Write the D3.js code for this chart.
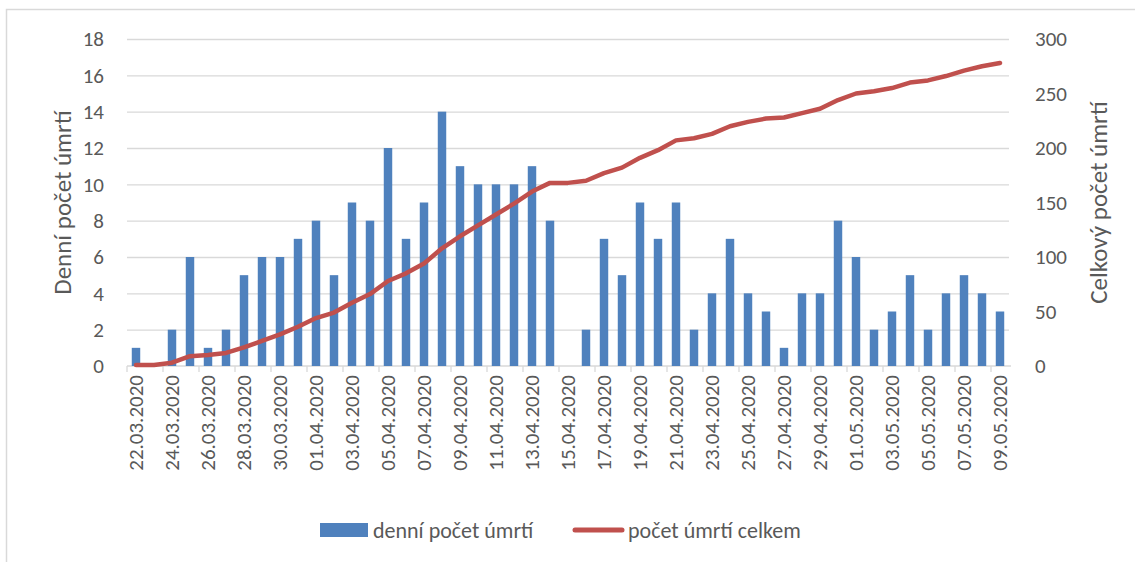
<!DOCTYPE html>
<html>
<head>
<meta charset="utf-8">
<script src="https://cdn.jsdelivr.net/npm/d3@7"></script>
<style>
  body { margin: 0; background: #fff; }
  text { font-family: Carlito, Calibri, Lato, sans-serif; fill: #595959; }
</style>
</head>
<body>
<svg id="chart"></svg>
<script>
const dates = [
  '22.03.2020', '23.03.2020', '24.03.2020', '25.03.2020', '26.03.2020', '27.03.2020', '28.03.2020',
  '29.03.2020', '30.03.2020', '31.03.2020', '01.04.2020', '02.04.2020', '03.04.2020', '04.04.2020',
  '05.04.2020', '06.04.2020', '07.04.2020', '08.04.2020', '09.04.2020', '10.04.2020', '11.04.2020',
  '12.04.2020', '13.04.2020', '14.04.2020', '15.04.2020', '16.04.2020', '17.04.2020', '18.04.2020',
  '19.04.2020', '20.04.2020', '21.04.2020', '22.04.2020', '23.04.2020', '24.04.2020', '25.04.2020',
  '26.04.2020', '27.04.2020', '28.04.2020', '29.04.2020', '30.04.2020', '01.05.2020', '02.05.2020',
  '03.05.2020', '04.05.2020', '05.05.2020', '06.05.2020', '07.05.2020', '08.05.2020', '09.05.2020'
];

const daily = [
  1, 0, 2, 6, 1, 2, 5, 6, 6, 7, 8, 5, 9, 8, 12, 7, 9, 14, 11, 10, 10, 10, 11, 8, 0,
  2, 7, 5, 9, 7, 9, 2, 4, 7, 4, 3, 1, 4, 4, 8, 6, 2, 3, 5, 2, 4, 5, 4, 3
];

const total = [
  1, 1, 3, 9, 10, 12, 17, 23, 29, 36, 44, 49, 58, 66, 78, 85, 94, 108, 119, 129, 139, 149, 160, 168, 168,
  170, 177, 182, 191, 198, 207, 209, 213, 220, 224, 227, 228, 232, 236, 244, 250, 252, 255, 260, 262, 266, 271, 275, 278
];

const leftTicks = [0, 2, 4, 6, 8, 10, 12, 14, 16, 18];
const rightTicks = [0, 50, 100, 150, 200, 250, 300];

const leftTitle = 'Denní počet úmrtí';
const rightTitle = 'Celkový počet úmrtí';
const barName = 'denní počet úmrtí';
const lineName = 'počet úmrtí celkem';

const barColor = '#4F81BD';
const lineColor = '#C0504D';
const gridColor = '#D9D9D9';
const font = 'Carlito, Calibri, Lato, sans-serif';

const W = 1135, H = 562;
const margin = { top: 39, right: 126, bottom: 196, left: 127 };
const width = W - margin.left - margin.right;
const height = H - margin.top - margin.bottom;

const svg = d3.select('#chart')
  .attr('width', W)
  .attr('height', H);

// outer frame of the chart area (runs past the right and bottom edge)
svg.append('rect')
  .attr('x', 6.5)
  .attr('y', 9.5)
  .attr('width', 1200)
  .attr('height', 700)
  .attr('fill', 'none')
  .attr('stroke', gridColor)
  .attr('stroke-width', 1.5);

const chart = svg.append('g')
  .attr('transform', `translate(${margin.left},${margin.top})`);

const xScale = d3.scaleBand()
  .domain(dates)
  .range([0, width])
  .paddingInner(0.53)
  .paddingOuter(0.265);

const yLeft = d3.scaleLinear().domain([0, 18]).range([height, 0]);
const yRight = d3.scaleLinear().domain([0, 300]).range([height, 0]);

// gridlines
const gridG = chart.append('g')
  .call(d3.axisLeft(yLeft).tickValues(leftTicks.filter(d => d > 0)).tickSize(-width).tickFormat(''));
gridG.select('.domain').remove();
gridG.selectAll('line').attr('stroke', gridColor).attr('stroke-width', 1.3);

// x axis line and tick marks between every second category
const step = xScale.step();
chart.append('line')
  .attr('x1', 0).attr('x2', width + 2)
  .attr('y1', height).attr('y2', height)
  .attr('stroke', gridColor)
  .attr('stroke-width', 1.3);

chart.append('g').selectAll('line')
  .data(dates.filter((d, i) => i % 2 === 0))
  .join('line')
  .attr('x1', d => xScale(d) - (step - xScale.bandwidth()) / 2)
  .attr('x2', d => xScale(d) - (step - xScale.bandwidth()) / 2)
  .attr('y1', height)
  .attr('y2', height + 6)
  .attr('stroke', gridColor)
  .attr('stroke-width', 1.3);

// bars
chart.append('g').selectAll('rect')
  .data(dates)
  .join('rect')
  .attr('x', d => xScale(d))
  .attr('y', (d, i) => yLeft(daily[i]))
  .attr('width', xScale.bandwidth())
  .attr('height', (d, i) => height - yLeft(daily[i]))
  .attr('fill', barColor);

// cumulative line
const line = d3.line()
  .x((d, i) => xScale(dates[i]) + xScale.bandwidth() / 2)
  .y(d => yRight(d));

chart.append('path')
  .datum(total)
  .attr('d', line)
  .attr('fill', 'none')
  .attr('stroke', lineColor)
  .attr('stroke-width', 4.5)
  .attr('stroke-linejoin', 'round')
  .attr('stroke-linecap', 'round');

// left axis labels
const leftAxisG = chart.append('g')
  .call(d3.axisLeft(yLeft).tickValues(leftTicks).tickSize(0).tickPadding(23));
leftAxisG.select('.domain').remove();
leftAxisG.selectAll('text')
  .style('font-size', '21px')
  .style('font-family', font)
  .attr('fill', '#595959');

// right axis labels
const rightAxisG = chart.append('g')
  .attr('transform', `translate(${width},0)`)
  .call(d3.axisRight(yRight).tickValues(rightTicks).tickSize(0).tickPadding(26));
rightAxisG.select('.domain').remove();
rightAxisG.selectAll('text')
  .style('font-size', '21px')
  .style('font-family', font)
  .attr('fill', '#595959');

// x axis labels, rotated
const xAxisG = chart.append('g')
  .attr('transform', `translate(0,${height})`)
  .call(d3.axisBottom(xScale).tickValues(dates.filter((d, i) => i % 2 === 0)).tickSize(0));
xAxisG.select('.domain').remove();
xAxisG.selectAll('text')
  .style('font-size', '21px')
  .style('font-family', font)
  .attr('fill', '#595959')
  .attr('text-anchor', 'end')
  .attr('x', 0)
  .attr('y', 0)
  .attr('dy', '0.35em')
  .attr('transform', 'translate(0,9) rotate(-90)');

// axis titles
chart.append('text')
  .attr('transform', `translate(${-127 + 62},${height / 2}) rotate(-90)`)
  .attr('text-anchor', 'middle')
  .attr('dy', '0.35em')
  .style('font-size', '25px')
  .text(leftTitle);

chart.append('text')
  .attr('transform', `translate(${width + 89},${height / 2}) rotate(-90)`)
  .attr('text-anchor', 'middle')
  .attr('dy', '0.35em')
  .style('font-size', '25px')
  .text(rightTitle);

// legend
const legend = svg.append('g')
  .attr('transform', 'translate(320,530)');

legend.append('rect')
  .attr('x', 0).attr('y', -7)
  .attr('width', 48).attr('height', 14)
  .attr('fill', barColor);

legend.append('text')
  .attr('x', 53).attr('dy', '0.35em')
  .style('font-size', '22px')
  .text(barName);

legend.append('line')
  .attr('x1', 255).attr('x2', 302)
  .attr('y1', 0).attr('y2', 0)
  .attr('stroke', lineColor)
  .attr('stroke-width', 5)
  .attr('stroke-linecap', 'round');

legend.append('text')
  .attr('x', 308).attr('dy', '0.35em')
  .style('font-size', '22px')
  .text(lineName);
</script>
</body>
</html>
